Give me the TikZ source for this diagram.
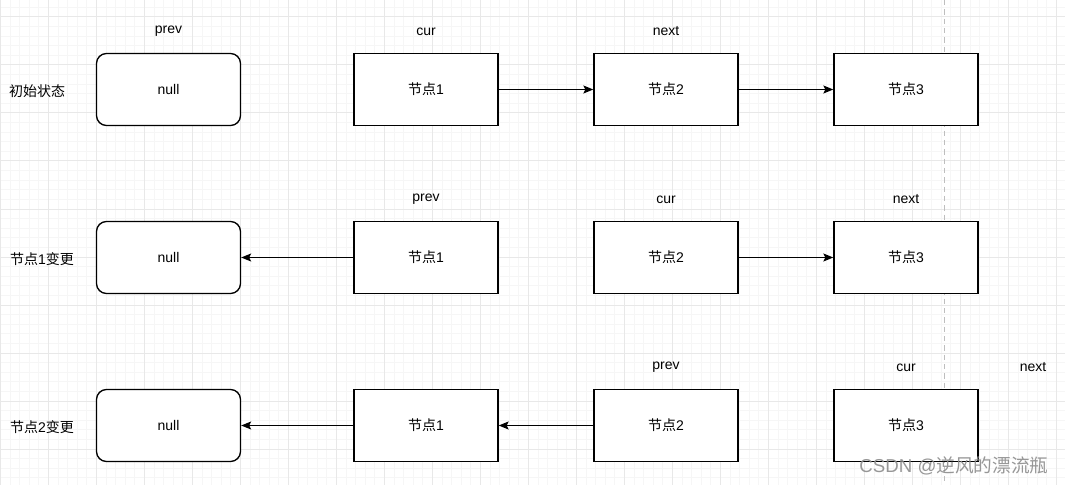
\documentclass[tikz,border=0pt]{standalone}
\usepackage{fontspec}
\setmainfont{Liberation Sans}
\newfontfamily\cjk{Noto Sans CJK SC}
\usetikzlibrary{arrows.meta}
\tikzset{
  every node/.style={font=\fontsize{10.5pt}{12pt}\selectfont},
  nodebox/.style={draw=black, line width=1pt, fill=white, minimum width=108pt, minimum height=54pt, inner sep=0pt},
  nullbox/.style={nodebox, rounded corners=7.5pt},
  ptr/.style={text=black, inner sep=0pt},
  link/.style={draw=black, line width=1pt, -{Stealth[length=7.5pt,width=6pt,inset=1.5pt]}},
  minorline/.style={draw={rgb,255:red,246;green,246;blue,246}, line width=0.75pt},
  majorline/.style={draw={rgb,255:red,232;green,232;blue,232}, line width=0.75pt},
}
\begin{document}
\begin{tikzpicture}[x=0.75pt,y=-0.75pt]
\path[use as bounding box, fill=white] (0,0) rectangle (1065,485);
% grid
\foreach \i in {0,...,111} {
  \draw[minorline] ({0.5+9.6*\i},0) -- ({0.5+9.6*\i},485);
}
\foreach \j in {0,...,50} {
  \draw[minorline] (0,{7.4+9.6*\j}) -- (1065,{7.4+9.6*\j});
}
\foreach \i in {0,...,22} {
  \draw[majorline] ({0.5+48*\i},0) -- ({0.5+48*\i},485);
}
\foreach \j in {0,...,10} {
  \draw[majorline] (0,{17+48*\j}) -- (1065,{17+48*\j});
}
\coordinate (dtop) at (944,0);
\coordinate (dbot) at (944,485);
\draw[draw={rgb,255:red,190;green,190;blue,190}, line width=0.75pt, dash pattern=on 4pt off 3pt] (dtop) -- (dbot);

% row 1
\node[nullbox] (n0) at (168.5,89.5) {null};
\node[nodebox] (a1) at (426,89.5) {{\cjk 节点}1};
\node[nodebox] (a2) at (666,89.5) {{\cjk 节点}2};
\node[nodebox] (a3) at (906,89.5) {{\cjk 节点}3};
\node[ptr] (p1) at (168.5,31.5) {prev};
\node[ptr] (c1) at (426,31.5) {cur};
\node[ptr] (x1) at (666,31.5) {next};
\node[ptr] (l1) at (37,91) {\cjk 初始状态};
\draw[link] (a1) -- (a2);
\draw[link] (a2) -- (a3);

% row 2
\node[nullbox] (m0) at (168.5,257.5) {null};
\node[nodebox] (b1) at (426,257.5) {{\cjk 节点}1};
\node[nodebox] (b2) at (666,257.5) {{\cjk 节点}2};
\node[nodebox] (b3) at (906,257.5) {{\cjk 节点}3};
\node[ptr] (p2) at (426,199.5) {prev};
\node[ptr] (c2) at (666,199.5) {cur};
\node[ptr] (x2) at (906,199.5) {next};
\node[ptr] (l2) at (42,259) {{\cjk 节点}1{\cjk 变更}};
\draw[link] (b1) -- (m0);
\draw[link] (b2) -- (b3);

% row 3
\node[nullbox] (k0) at (168.5,425.5) {null};
\node[nodebox] (d1) at (426,425.5) {{\cjk 节点}1};
\node[nodebox] (d2) at (666,425.5) {{\cjk 节点}2};
\node[nodebox] (d3) at (906,425.5) {{\cjk 节点}3};
\node[ptr] (p3) at (666,367.5) {prev};
\node[ptr] (c3) at (906,367.5) {cur};
\node[ptr] (x3) at (1033,367.5) {next};
\node[ptr] (l3) at (42,427) {{\cjk 节点}2{\cjk 变更}};
\draw[link] (d1) -- (k0);
\draw[link] (d2) -- (d1);

% watermark
\node[text={rgb,255:red,140;green,140;blue,140}, font=\fontsize{14pt}{16pt}\selectfont, inner sep=0pt, opacity=0.9] (wm) at (954,466) {CSDN @{\cjk 逆风的漂流瓶}};
\end{tikzpicture}
\end{document}
